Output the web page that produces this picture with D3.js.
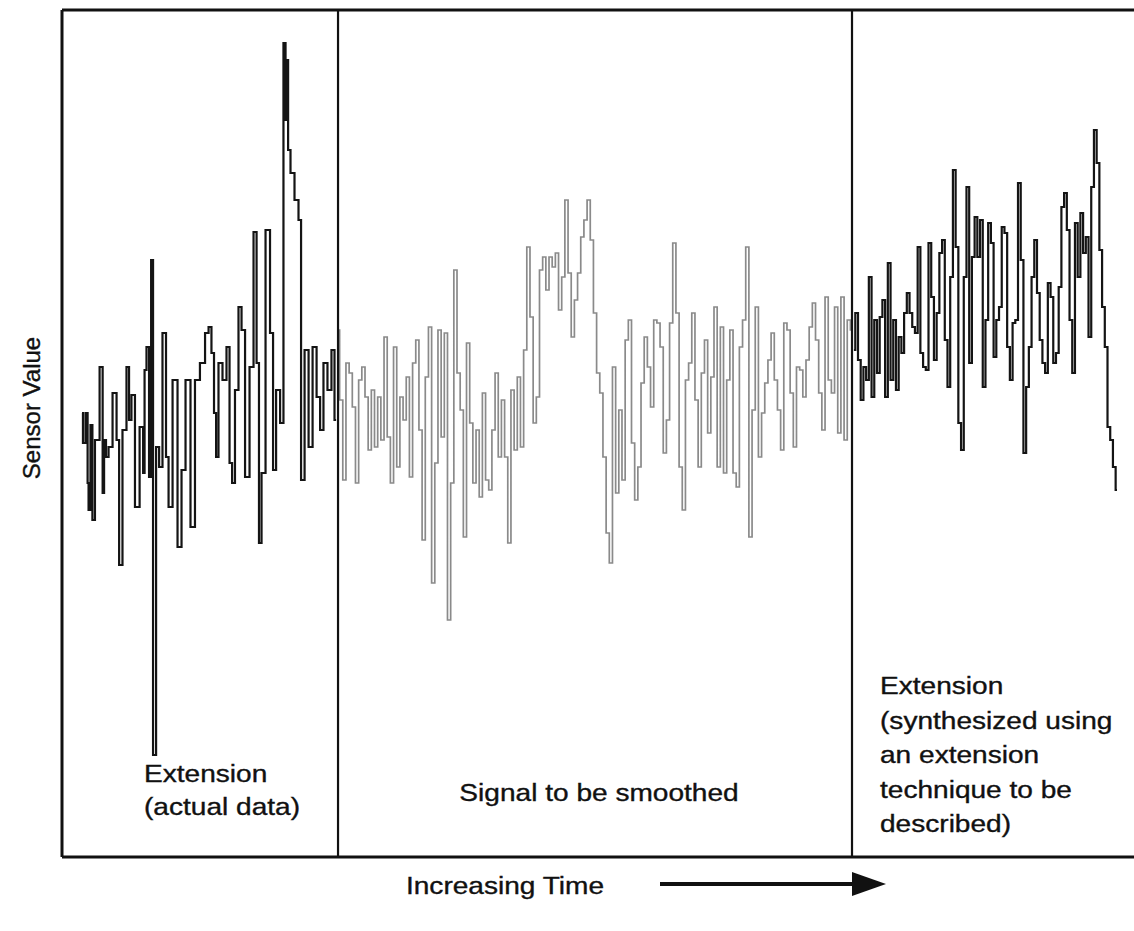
<!DOCTYPE html>
<html>
<head>
<meta charset="utf-8">
<script src="https://cdn.jsdelivr.net/npm/d3@7"></script>
<style>
  html, body { margin: 0; padding: 0; background: #fff; }
  svg { display: block; }
  text { font-family: "Liberation Sans", Arial, sans-serif; fill: #111; stroke: #111; stroke-width: 0.35px; }
</style>
</head>
<body>
<svg id="chart" width="1134" height="931"></svg>
<script>
// ---- Data (sensor values, arbitrary units; time in samples) ----
const segmentNames = ["Extension (actual data)", "Signal to be smoothed", "Extension (synthesized)"];
const segmentBounds = [0, 80, 240.6, 323.4];   // time boundaries of the three parts

const timeActual = [0,0.6,1.6,1.9,2.2,3.1,3.4,4.7,6.3,6.6,7.2,7.8,8.8,10.3,11.3,11.9,13.4,14.4,15,15.9,
  17.2,18.8,19.4,19.7,20.6,21.3,21.9,22.5,23.8,24.4,25.9,26.6,27.5,29.1,30.6,31.6,33.1,34.7,35.9,37.8,39.1,
  40,40.9,41.6,42.2,43.1,44.7,45.6,46.6,47.2,48.4,49.4,50.3,51.6,53.1,54.1,55,55.6,56.6,58.1,
  59.4,60,61.3,62.5,63.4,63.8,64.1,64.7,65.6,67.2,68.1,68.8,70.3,71.3,72.8,73.8,75,75.9,77.5,78.4,79.4];
const extensionActual = [487,457,487,417,390,475,380,460,533,407,460,443,453,507,460,335,470,533,480,505,
  393,473,427,530,553,423,640,145,453,433,567,443,393,520,353,430,520,373,520,537,567,
  573,547,487,443,537,520,553,437,417,510,593,570,423,533,668,537,357,427,670,567,430,510,477,
  857,780,840,750,727,700,680,420,550,453,553,503,470,537,510,550,480];

const signalToSmooth = [570,500,420,537,527,493,417,520,533,503,450,510,453,503,460,563,463,417,553,433,
  503,480,523,423,537,560,470,360,523,573,317,437,570,463,567,280,417,630,527,490,
  363,557,477,417,470,403,507,420,410,470,527,443,500,443,357,510,450,523,453,550,
  653,583,477,503,630,643,610,643,633,647,590,623,700,627,563,600,627,663,680,
  700,660,587,527,507,443,367,337,533,407,490,420,560,580,457,400,433,517,563,533,
  493,580,577,553,447,480,577,657,587,433,390,520,537,587,500,433,527,560,467,523,
  593,433,573,427,520,570,427,413,553,580,653,363,490,593,443,487,517,540,567,520,
  490,450,577,570,507,453,533,530,503,540,573,597,560,507,470,603,520,507,593,467,
  603,460,580,570];

const extensionSynth = [550,587,540,500,533,520,623,503,580,527,583,600,503,637,520,580,510,563,547,587,
  607,587,573,567,653,547,533,530,657,603,540,587,647,660,560,513,623,730,653,477,
  450,623,713,537,643,683,
  643,680,513,580,677,657,543,580,593,673,667,553,520,577,580,717,640,447,513,553,
  623,660,607,560,537,527,617,603,537,547,613,693,707,670,580,527,677,623,687,647,
  663,563,713,770,737,650,593,553,473,460,433,410];

const yLabel = "Sensor Value";
const xLabel = "Increasing Time";
const leftText = ["Extension", "(actual data)"];
const midText = ["Signal to be smoothed"];
const rightText = ["Extension", "(synthesized using", "an extension", "technique to be", "described)"];

// ---- Layout ----
const svg = d3.select("#chart");
const frame = { left: 62, top: 10, bottom: 857, right: 1140 };
const x = d3.scaleLinear().domain([0, 323.4]).range([82, 1117]);
const y = d3.scaleLinear().domain([43, 890]).range([857, 10]);
const SX = 1.17; // horizontal stretch of the scanned lettering

function uniformTimes(vals, t0, t1) {
  return vals.map((v, i) => t0 + i * (t1 - t0) / (vals.length - 1));
}
const parts = [
  { vals: extensionActual, times: timeActual, color: "#141414", width: 2.2 },
  { vals: signalToSmooth, times: uniformTimes(signalToSmooth, segmentBounds[1], segmentBounds[2]), color: "#8a8a8a", width: 1.7 },
  { vals: extensionSynth, times: uniformTimes(extensionSynth, segmentBounds[2] + 0.6, segmentBounds[3]), color: "#141414", width: 2.2 }
];

parts.forEach(p => {
  const pts = p.vals.map((v, i) => ({ t: p.times[i], v }));
  const line = d3.line().x(d => x(d.t)).y(d => y(d.v)).curve(d3.curveStep);
  svg.append("path")
    .attr("d", line(pts))
    .attr("fill", "none")
    .attr("stroke", p.color)
    .attr("stroke-width", p.width)
    .attr("stroke-linejoin", "miter");
});

// frame
const frameStroke = (sel, w) => sel.attr("stroke", "#111").attr("stroke-width", w);
frameStroke(svg.append("line").attr("x1", frame.left).attr("x2", frame.right).attr("y1", frame.top).attr("y2", frame.top), 3);
frameStroke(svg.append("line").attr("x1", frame.left).attr("x2", frame.right).attr("y1", frame.bottom).attr("y2", frame.bottom), 3);
frameStroke(svg.append("line").attr("x1", frame.left).attr("x2", frame.left).attr("y1", frame.top).attr("y2", frame.bottom), 3);
// dividers
[segmentBounds[1], segmentBounds[2]].forEach(b => {
  frameStroke(svg.append("line").attr("x1", x(b)).attr("x2", x(b)).attr("y1", frame.top).attr("y2", frame.bottom), 2.2);
});

function textBlock(lines, px, py, dy, anchor) {
  lines.forEach((t, i) => {
    svg.append("text")
      .attr("transform", `translate(${px},${py + i * dy}) scale(${SX},1)`)
      .attr("text-anchor", anchor || "start")
      .attr("font-size", 24)
      .text(t);
  });
}
textBlock(leftText, 144, 782, 33);
textBlock(midText, 599, 801, 33, "middle");
textBlock(rightText, 880, 694, 34.5);

// y label
svg.append("text")
  .attr("transform", "translate(40,408) rotate(-90)")
  .attr("text-anchor", "middle")
  .attr("font-size", 24)
  .text(yLabel);

// x label + arrow
svg.append("text")
  .attr("transform", `translate(505,894) scale(${SX},1)`)
  .attr("text-anchor", "middle")
  .attr("font-size", 24)
  .text(xLabel);
svg.append("line").attr("x1", 660).attr("x2", 858).attr("y1", 884).attr("y2", 884)
  .attr("stroke", "#111").attr("stroke-width", 4);
svg.append("path").attr("d", d3.line()([[852, 872], [886, 884], [852, 896]]) + "Z")
  .attr("fill", "#111");
</script>
</body>
</html>
